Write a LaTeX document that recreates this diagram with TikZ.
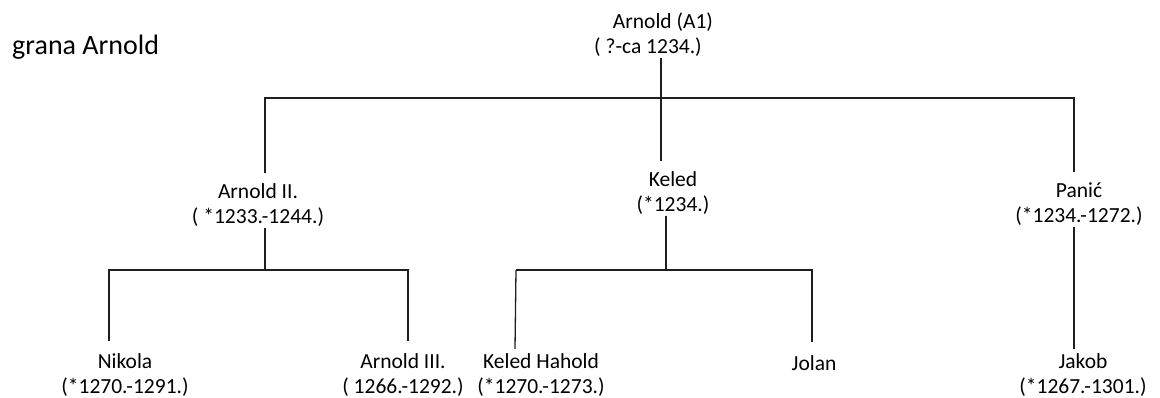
\documentclass[tikz,border=0pt]{standalone}
\usepackage{fontspec}
\setmainfont{Carlito}
\begin{document}
\begin{tikzpicture}[x=1pt,y=-1pt,
  person/.style={font=\fontsize{21.5}{25}\selectfont, align=center, inner sep=1pt},
  link/.style={draw=black!88, line width=1.3pt}]
\useasboundingbox[fill=white] (0,0) rectangle (1160,398);
\node[font=\fontsize{28}{33}\selectfont, anchor=base west, inner sep=0pt] (title) at (12,55) {grana Arnold};
\node[person] (a1) at (663,34.5) {Arnold (A1)\\( ?-ca 1234.)\hspace*{30pt}};
\node[person] (a2) at (258,205.5) {Arnold II.\\( *1233.-1244.)};
\node[person] (keled) at (673,193) {Keled\\(*1234.)};
\node[person] (panic) at (1079,204.5) {Panić\\(*1234.-1272.)};
\node[person] (nikola) at (125,375.5) {Nikola\\(*1270.-1291.)};
\node[person] (a3) at (403,375.5) {Arnold III.\\( 1266.-1292.)};
\node[person] (kh) at (541,375.5) {Keled Hahold\\(*1270.-1273.)};
\node[person] (jolan) at (814,363) {Jolan};
\node[person] (jakob) at (1083,375.5) {Jakob\\(*1267.-1301.)};
% bars
\coordinate (b1L) at (265,98);
\coordinate (b1M) at (661,98);
\coordinate (b1R) at (1074,98);
\coordinate (b2L) at (516,270);
\coordinate (b2M) at (666,270);
\coordinate (b2R) at (812,270);
\coordinate (b3L) at (109,270);
\coordinate (b3M) at (265,270);
\coordinate (b3R) at (408,270);
\coordinate (khx) at (515,0);
% A1 generation
\draw[link] (a1.south -| b1M) -- ([yshift=9pt]keled.north -| b1M);
\draw[link] ([yshift=10pt]a2.north -| b1L) -- (b1L) -- (b1R) -- ([yshift=10pt]panic.north -| b1R);
% Arnold II
\draw[link] (a2.south -| b3M) -- (b3M);
\draw[link] ([yshift=12pt]nikola.north -| b3L) -- (b3L) -- (b3R) -- ([yshift=12pt]a3.north -| b3R);
% Keled
\draw[link] (keled.south -| b2M) -- (b2M);
\draw[link] (b2L) -- (b2R) -- ([yshift=12pt]jolan.north -| b2R);
\draw[link] (b2L) -- ([yshift=4pt]kh.north -| khx);
% Panic
\draw[link] (panic.south -| b1R) -- ([yshift=4pt]jakob.north -| b1R);
\end{tikzpicture}
\end{document}
